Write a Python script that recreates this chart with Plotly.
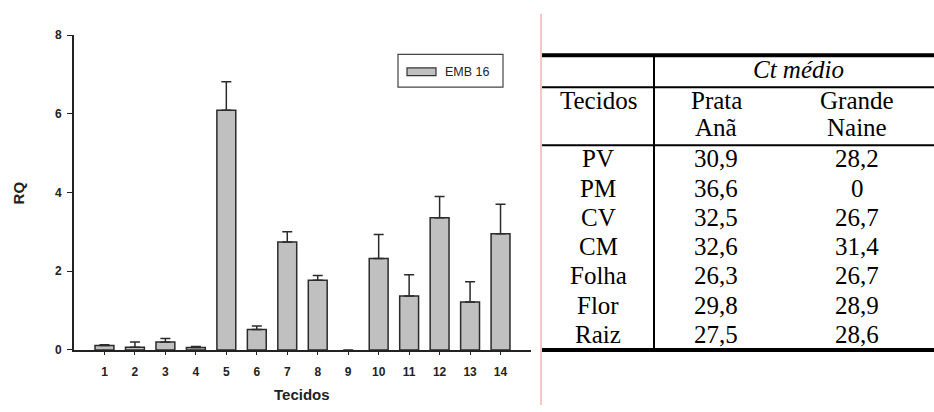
import plotly.graph_objects as go

# ---------------- data ----------------
categories = [str(i) for i in range(1, 15)]
rq_values = [0.11, 0.07, 0.20, 0.06, 6.09, 0.52, 2.74, 1.77, 0.0, 2.32, 1.37, 3.36, 1.22, 2.95]
rq_err_up = [0.02, 0.13, 0.09, 0.03, 0.72, 0.09, 0.26, 0.12, 0.0, 0.61, 0.54, 0.54, 0.51, 0.75]
series_name = "EMB 16"
y_ticks = [0, 2, 4, 6, 8]

table_tissues = ["PV", "PM", "CV", "CM", "Folha", "Flor", "Raiz"]
ct_prata_ana = [30.9, 36.6, 32.5, 32.6, 26.3, 29.8, 27.5]
ct_grande_naine = [28.2, 0, 26.7, 31.4, 26.7, 28.9, 28.6]

# ---------------- helpers (pixel -> paper) ----------------
W, H = 934, 412
def px(x):
    return x / W
def py(y):
    return 1 - y / H

def fmt(v):
    return "0" if v == 0 else f"{v:.1f}".replace(".", ",")

SANS = "Liberation Sans, Arial, sans-serif"
SERIF = "Liberation Serif, Times New Roman, serif"
INK = "#222222"

line_w = [1.5 if v > 0 else 0 for v in rq_values]
err_plot = [e if v > 0 else float("nan") for v, e in zip(rq_values, rq_err_up)]

fig = go.Figure()
fig.add_trace(go.Bar(
    x=list(range(1, 15)), y=rq_values, name=series_name, width=0.62,
    marker=dict(color="#c0c0c0", line=dict(color="#2b2b2b", width=line_w)),
    error_y=dict(type="data", symmetric=False, array=err_plot,
                 arrayminus=[0] * len(rq_err_up), color="#2b2b2b",
                 thickness=1.5, width=5),
    showlegend=False,
))

fig.update_layout(
    width=W, height=H,
    margin=dict(l=0, r=0, t=0, b=0),
    paper_bgcolor="white", plot_bgcolor="white",
    xaxis=dict(domain=[px(74), px(531)], range=[0, 15],
               tickvals=list(range(1, 15)), ticktext=categories,
               showline=True, linecolor=INK, linewidth=1.6,
               ticks="outside", ticklen=3, tickcolor=INK, tickwidth=1,
               ticklabelstandoff=7,
               showgrid=False, zeroline=False,
               tickfont=dict(family=SANS, size=12, color=INK, weight="bold")),
    yaxis=dict(domain=[py(355), py(29)], range=[0, 8],
               tickvals=y_ticks, ticktext=[str(t) for t in y_ticks],
               showline=True, linecolor=INK, linewidth=1.6,
               ticks="outside", ticklen=5, tickcolor=INK, tickwidth=1.4,
               ticklabelstandoff=3,
               showgrid=False, zeroline=False,
               tickfont=dict(family=SANS, size=12, color=INK, weight="bold")),
    font=dict(family=SANS, color=INK),
)

ann = []
shapes = []
# axis titles
ann.append(dict(text="Tecidos", x=px(302), y=py(401), xref="paper", yref="paper",
                showarrow=False, xanchor="center", yanchor="middle",
                font=dict(family=SANS, size=15, color=INK, weight="bold")))
ann.append(dict(text="RQ", x=px(18), y=py(193), xref="paper", yref="paper",
                showarrow=False, xanchor="center", yanchor="middle", textangle=-90,
                font=dict(family=SANS, size=15, color=INK, weight="bold")))

# legend box
shapes.append(dict(type="rect", xref="paper", yref="paper", x0=px(398), x1=px(503),
                   y0=py(49), y1=py(83), line=dict(color="#444", width=1.2)))
shapes.append(dict(type="rect", xref="paper", yref="paper", x0=px(407), x1=px(436),
                   y0=py(63), y1=py(71), fillcolor="#c0c0c0",
                   line=dict(color="#333", width=1.2)))
ann.append(dict(text=series_name, x=px(443), y=py(67), xref="paper", yref="paper",
                showarrow=False, xanchor="left", yanchor="middle",
                font=dict(family=SANS, size=12.5, color=INK)))

# separator red line
shapes.append(dict(type="line", xref="paper", yref="paper", x0=px(541), x1=px(541),
                   y0=py(7), y1=py(412), line=dict(color="#f08c8c", width=1)))

# ---------------- table ----------------
TL, TR = 542, 934
VX = 654
top_y, mid_y, head_y, bot_y = 50, 83, 143, 355
def hline(y, w):
    shapes.append(dict(type="line", xref="paper", yref="paper", x0=px(TL), x1=px(TR),
                       y0=py(y), y1=py(y), line=dict(color="black", width=w)))
hline(top_y, 4)
hline(mid_y, 2)
hline(head_y, 2)
hline(bot_y, 4)
shapes.append(dict(type="line", xref="paper", yref="paper", x0=px(VX), x1=px(VX),
                   y0=py(top_y), y1=py(bot_y), line=dict(color="black", width=2)))

FS = 25
c0, c1, c2 = 598, 716, 857
def txt(s, x, y, italic=False):
    ann.append(dict(text=s, x=px(x), y=py(y), xref="paper", yref="paper",
                    showarrow=False, xanchor="center", yanchor="middle",
                    font=dict(family=SERIF, size=FS, color="black",
                              style="italic" if italic else "normal")))

txt("Ct médio", 798, 65, italic=True)
txt("Tecidos", c0, 97)
txt("Prata", c1, 97)
txt("Grande", c2, 97)
txt("Anã", c1, 125)
txt("Naine", c2, 125)

row_h = (bot_y - head_y) / len(table_tissues)
for i, (t, a, b) in enumerate(zip(table_tissues, ct_prata_ana, ct_grande_naine)):
    yc = head_y + row_h * (i + 0.5) - 1
    txt(t, c0, yc)
    txt(fmt(a), c1, yc)
    txt(fmt(b), c2, yc)

fig.update_layout(annotations=ann, shapes=shapes)
fig.write_html("out.html")
